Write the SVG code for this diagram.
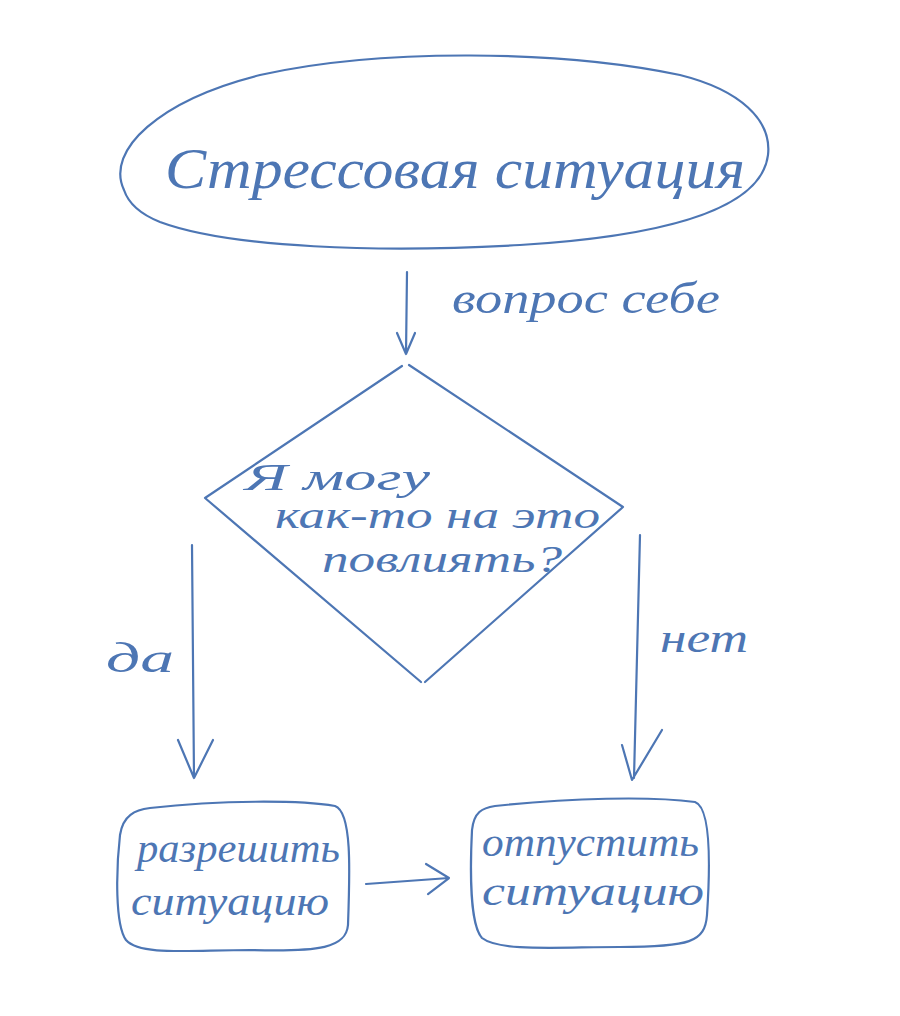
<svg xmlns="http://www.w3.org/2000/svg" width="900" height="1016" viewBox="0 0 900 1016">
<style>
.ln{fill:none;stroke:#4d76b4;stroke-width:2.2;stroke-linecap:round;stroke-linejoin:round}
.t{font-family:"Liberation Serif","DejaVu Serif",serif;font-style:italic;fill:#4d76b4}
</style>
<rect width="900" height="1016" fill="#ffffff"/>
<g id="connectors">
<path class="ln" d="M407 272 L406 354 M397 333 L406 354 L415 333"/>
<path class="ln" d="M192 545 L194 778 M178 740 L194 778 L213 740"/>
<path class="ln" d="M640 535 L634 778 M622 745 L632 780 L662 730"/>
<path class="ln" d="M366 884 L449 878 M426 864 L449 878 L428 894"/>
<text class="t" x="452" y="313" font-size="44" textLength="268" lengthAdjust="spacingAndGlyphs">вопрос себе</text>
<text class="t" x="106" y="672" font-size="42" textLength="68" lengthAdjust="spacingAndGlyphs">да</text>
<text class="t" x="660" y="652" font-size="42" textLength="88" lengthAdjust="spacingAndGlyphs">нет</text>
</g>
<g id="node-stress">
<path class="ln" d="M124 190 C105 150 160 100 260 75 C380 48 560 50 680 75 C740 90 772 120 768 155 C762 205 680 235 520 245 C380 253 230 248 160 222 C140 214 128 202 124 190 Z"/>
<text class="t" x="165" y="188" font-size="58" textLength="580" lengthAdjust="spacingAndGlyphs">Стрессовая ситуация</text>
</g>
<g id="node-question">
<path class="ln" d="M402 366 L205 498 L421 682 M409 365 L623 507 L425 682"/>
<text class="t" x="245" y="490" font-size="38" textLength="185" lengthAdjust="spacingAndGlyphs">Я могу</text>
<text class="t" x="275" y="528" font-size="38" textLength="325" lengthAdjust="spacingAndGlyphs">как-то на это</text>
<text class="t" x="322" y="572" font-size="38" textLength="240" lengthAdjust="spacingAndGlyphs">повлиять?</text>
</g>
<g id="node-resolve">
<path class="ln" d="M150 808 C220 800 300 800 335 806 C352 812 350 870 348 925 C346 948 320 952 250 950 C190 950 140 956 126 940 C115 925 116 870 120 835 C123 815 135 810 150 808 Z"/>
<text class="t" x="137" y="862" font-size="40" textLength="203" lengthAdjust="spacingAndGlyphs">разрешить</text>
<text class="t" x="131" y="915" font-size="40" textLength="198" lengthAdjust="spacingAndGlyphs">ситуацию</text>
</g>
<g id="node-release">
<path class="ln" d="M495 806 C570 798 650 796 695 802 C712 808 710 870 707 915 C705 942 690 947 620 947 C560 947 500 952 482 938 C470 925 470 870 472 830 C474 812 482 808 495 806 Z"/>
<text class="t" x="482" y="856" font-size="40" textLength="217" lengthAdjust="spacingAndGlyphs">отпустить</text>
<text class="t" x="482" y="905" font-size="40" textLength="222" lengthAdjust="spacingAndGlyphs">ситуацию</text>
</g>
</svg>
